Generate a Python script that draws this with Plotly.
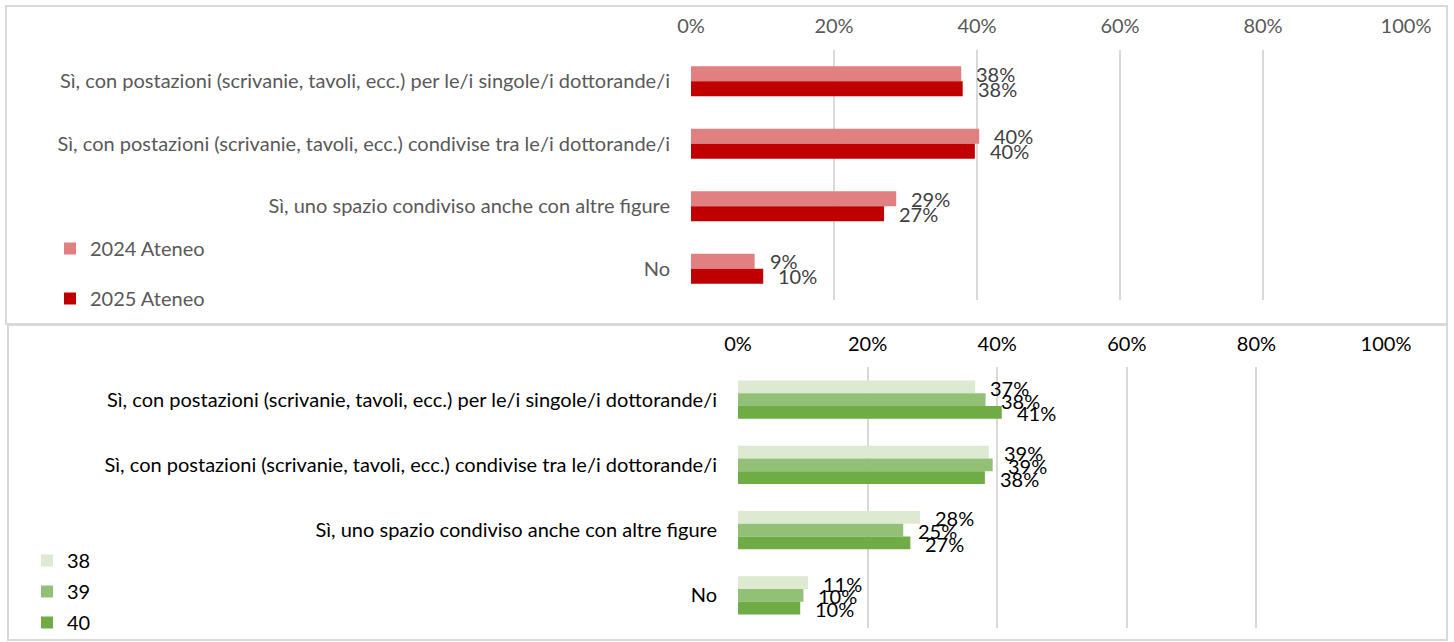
import plotly.graph_objects as go

W, H = 1454, 642

categories = [
    "Sì, con postazioni (scrivanie, tavoli, ecc.) per le/i singole/i dottorande/i",
    "Sì, con postazioni (scrivanie, tavoli, ecc.) condivise tra le/i dottorande/i",
    "Sì, uno spazio condiviso anche con altre figure",
    "No",
]

# Top panel (Ateneo)
top_series_names = ["2024 Ateneo", "2025 Ateneo"]
top_2024 = [0.378, 0.403, 0.287, 0.089]
top_2025 = [0.380, 0.397, 0.270, 0.101]
top_labels_2024 = ["38%", "40%", "29%", "9%"]
top_labels_2025 = ["38%", "40%", "27%", "10%"]

# Bottom panel (cycles)
bot_series_names = ["38", "39", "40"]
bot_38 = [0.366, 0.387, 0.281, 0.108]
bot_39 = [0.382, 0.393, 0.255, 0.101]
bot_40 = [0.407, 0.381, 0.266, 0.096]
bot_labels_38 = ["37%", "39%", "28%", "11%"]
bot_labels_39 = ["38%", "39%", "25%", "10%"]
bot_labels_40 = ["41%", "38%", "27%", "10%"]

x_ticks = [0, 0.2, 0.4, 0.6, 0.8, 1.0]

FONT = "Lato"
FS = 20
GRAY_TXT = "#595959"
GRID = "#D9D9D9"

top_colors = ["#E08080", "#C00000"]
bot_colors = ["#DDE9D1", "#92C076", "#6FAC46"]


def px_x(p):
    return p / W


def px_y(p):
    return 1 - p / H


fig = go.Figure()
annotations = []

idx = list(range(len(categories)))

# ---- top panel bars
top_bw = 0.24
top_offsets = [-top_bw / 2, top_bw / 2]
top_vals = [top_2024, top_2025]
top_lbls = [top_labels_2024, top_labels_2025]
for s, name in enumerate(top_series_names):
    ys = [i + top_offsets[s] for i in idx]
    fig.add_trace(go.Bar(
        x=top_vals[s], y=ys, orientation="h", width=top_bw,
        name=name, marker=dict(color=top_colors[s], line=dict(width=0)),
        xaxis="x", yaxis="y", legend="legend", legendgroup="t%d" % s,
        hoverinfo="skip",
    ))
    for v, yy, lb in zip(top_vals[s], ys, top_lbls[s]):
        annotations.append(dict(
            x=v, y=yy, xref="x", yref="y", text=lb, showarrow=False,
            xanchor="left", yanchor="middle", xshift=13, yshift=0,
            font=dict(family=FONT, size=FS, color="#404040"),
        ))

# ---- bottom panel bars
bot_bw = 0.195
bot_offsets = [-bot_bw, 0, bot_bw]
bot_vals = [bot_38, bot_39, bot_40]
bot_lbls = [bot_labels_38, bot_labels_39, bot_labels_40]
for s, name in enumerate(bot_series_names):
    ys = [i + bot_offsets[s] for i in idx]
    fig.add_trace(go.Bar(
        x=bot_vals[s], y=ys, orientation="h", width=bot_bw,
        name=name, marker=dict(color=bot_colors[s], line=dict(width=0)),
        xaxis="x2", yaxis="y2", legend="legend2", legendgroup="b%d" % s,
        hoverinfo="skip",
    ))
    for v, yy, lb in zip(bot_vals[s], ys, bot_lbls[s]):
        annotations.append(dict(
            x=v, y=yy, xref="x2", yref="y2", text=lb, showarrow=False,
            xanchor="left", yanchor="middle", xshift=13, yshift=-1,
            font=dict(family=FONT, size=FS, color="#000000"),
        ))

xaxis_common = dict(
    range=[0, 1.0], tickvals=x_ticks, tickformat=".0%", side="top",
    showgrid=True, gridcolor=GRID, gridwidth=2, zeroline=False,
    showline=False, ticks="", fixedrange=True, automargin=False,
)
yaxis_common = dict(
    tickvals=idx, ticktext=categories, range=[3.5, -0.5],
    showgrid=False, zeroline=False, showline=False, ticks="",
    automargin=False, fixedrange=True,
)

fig.update_layout(
    width=W, height=H, autosize=False,
    margin=dict(l=0, r=0, t=0, b=0, pad=0),
    paper_bgcolor="white", plot_bgcolor="white",
    barmode="overlay",
    showlegend=True,
    font=dict(family=FONT, size=FS, color=GRAY_TXT),
    xaxis=dict(domain=[px_x(691), px_x(1406)], anchor="y",
               tickfont=dict(family=FONT, size=FS, color=GRAY_TXT),
               ticklabelstandoff=12, **xaxis_common),
    yaxis=dict(domain=[px_y(300), px_y(50)], anchor="x",
               tickfont=dict(family=FONT, size=FS, color=GRAY_TXT),
               ticklabelstandoff=20, **yaxis_common),
    xaxis2=dict(domain=[px_x(738), px_x(1386)], anchor="y2",
                tickfont=dict(family=FONT, size=FS, color="#000000"),
                ticklabelstandoff=11, **xaxis_common),
    yaxis2=dict(domain=[px_y(628), px_y(367)], anchor="x2",
                tickfont=dict(family=FONT, size=FS, color="#000000"),
                ticklabelstandoff=20, **yaxis_common),
    legend=dict(
        x=px_x(50), y=px_y(229), xanchor="left", yanchor="top",
        font=dict(family=FONT, size=FS, color=GRAY_TXT),
        bgcolor="rgba(0,0,0,0)", tracegroupgap=21, traceorder="grouped",
        itemclick=False, itemdoubleclick=False,
    ),
    legend2=dict(
        x=px_x(27), y=0, xanchor="left", yanchor="bottom",
        font=dict(family=FONT, size=FS, color="#000000"),
        bgcolor="rgba(0,0,0,0)", tracegroupgap=2, traceorder="grouped",
        itemclick=False, itemdoubleclick=False,
    ),
    annotations=annotations,
    shapes=[
        dict(type="rect", xref="paper", yref="paper",
             x0=px_x(6), x1=px_x(1447), y0=px_y(324), y1=px_y(6),
             line=dict(color=GRID, width=2), fillcolor="rgba(0,0,0,0)",
             layer="below"),
        dict(type="rect", xref="paper", yref="paper",
             x0=px_x(8), x1=px_x(1447), y0=px_y(640), y1=px_y(325),
             line=dict(color=GRID, width=2), fillcolor="rgba(0,0,0,0)",
             layer="below"),
    ],
)

fig.write_html(
    "out.html",
    config={"displayModeBar": False},
    post_script="document.body.style.margin='0px';document.body.style.overflow='hidden';",
)
